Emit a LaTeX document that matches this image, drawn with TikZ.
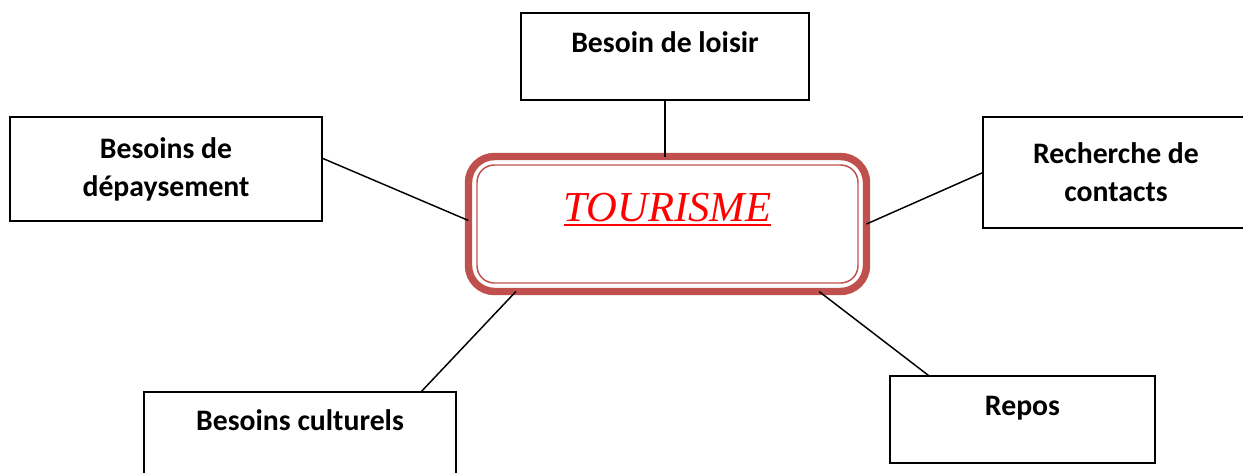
\documentclass[tikz,border=0pt]{standalone}
\usepackage{fontspec}
\setmainfont{Carlito}
\newfontfamily\tourserif{Liberation Serif}
\usepackage{tikz}
\usetikzlibrary{calc}
\definecolor{tourred}{RGB}{192,80,77}
\newcommand{\tourline}[1]{\setbox0\hbox{#1}\rlap{\rule[-4.1pt]{\wd0}{1.8pt}}\box0}

\begin{document}
\begin{tikzpicture}[x=0.75pt,y=-0.75pt,
  box/.style={draw,line width=1pt,inner sep=0pt,outer sep=0pt,align=center,
    font=\fontsize{22.3}{28.5}\selectfont\bfseries},
  oneline/.style={text height=15pt,text depth=21.75pt},
  link/.style={line width=1.1pt}]
%\draw (0,0) grid (1243,472);
\useasboundingbox (0,0) rectangle (1243,472);
\clip (0,0) rectangle (1243,472);
\node[draw=tourred,line width=5.6pt,rounded corners=19.5pt,minimum width=298.5pt,
  minimum height=101.25pt,inner sep=0pt,outer sep=0pt,text=red,
  font=\fontsize{32}{36}\selectfont\tourserif\itshape,
  text height=21pt,text depth=25.5pt] (tour) at (667.5,224) {\tourline{TOURISME}};
\draw[tourred,line width=1.1pt,rounded corners=13pt] ([shift={(8.5,8.5)}]tour.north west)
  rectangle ([shift={(-8.5,-8.5)}]tour.south east);
\node[box,oneline,minimum width=216pt,minimum height=65.25pt] (loisir) at (665,56.5) {Besoin de loisir};
\node[box,minimum width=234pt,minimum height=78pt] (depay) at (166,169) {Besoins de\\dépaysement};
\node[box,minimum width=199.5pt,minimum height=83.25pt] (contacts) at (1116,172.5) {Recherche de\\contacts};
\node[box,text height=15pt,text depth=24pt,minimum width=234pt,minimum height=66pt] (culture) at (300,436) {Besoins culturels};
\node[box,oneline,minimum width=198.75pt,minimum height=65.25pt] (repos) at (1022.5,419.5) {Repos};
\draw[link] (loisir.south) -- (loisir.south |- tour.north);
\draw[link] (depay.4) -- (tour.179);
\draw[link] (contacts.west) -- (tour.east);
\draw[link] (culture.20) -- (tour.204);
\draw[link] (repos.155) -- (tour.336);
\end{tikzpicture}
\end{document}
